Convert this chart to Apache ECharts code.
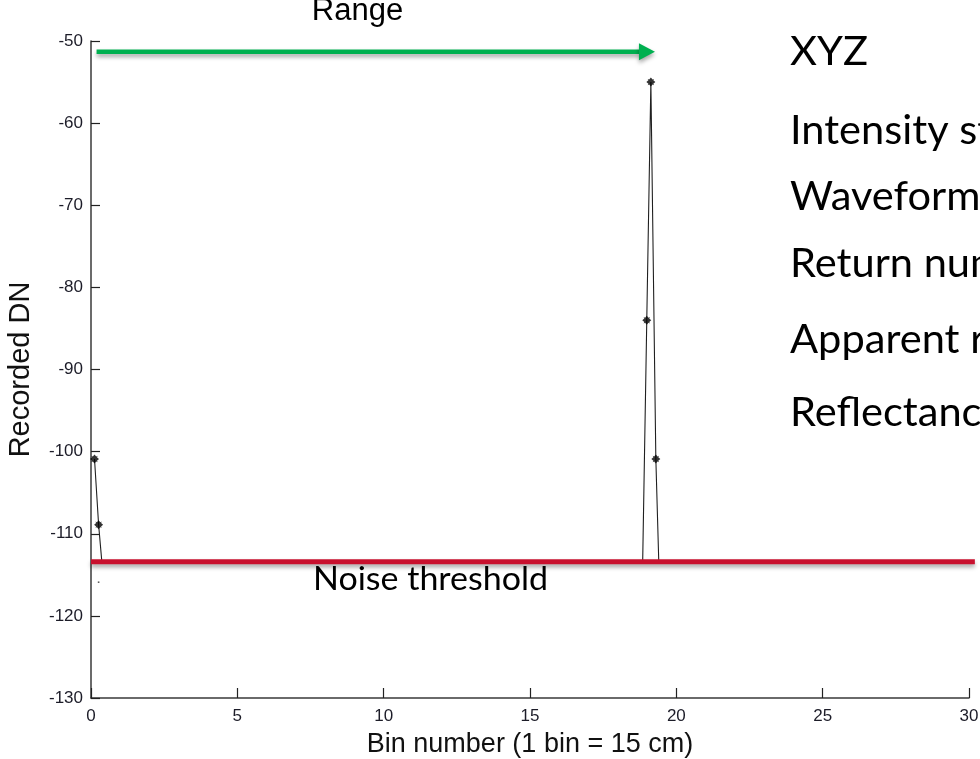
<!DOCTYPE html>
<html>
<head>
<meta charset="utf-8">
<script src="https://cdn.jsdelivr.net/npm/echarts@6/dist/echarts.min.js"></script>
<style>
  html, body { margin: 0; padding: 0; background: #fff; }
  #chart { width: 980px; height: 759px; }
</style>
</head>
<body>
<div id="chart"></div>
<script>
// Recorded full-waveform samples (bin index vs digital number)
const echoBins = [0.12, 0.26, 0.37];
const echoDN = [-100.9, -108.9, -113.4];
const peakBins = [18.85, 18.99, 19.13, 19.30, 19.40];
const peakDN = [-113.4, -84.0, -55.0, -100.9, -113.4];
// Samples drawn with a marker
const sampleBins = [0.12, 0.26, 18.99, 19.13, 19.30];
const sampleDN = [-100.9, -108.9, -84.0, -55.0, -100.9];
// Isolated low sample below the threshold
const strayBins = [0.26];
const strayDN = [-115.9];

// Axis ranges and annotations
const xTicks = { min: 0, max: 30, step: 5 };
const yTicks = { min: -130, max: -50, step: 10 };
const noiseThreshold = -113.4;
const thresholdSpan = [0, 30.2];
const rangeSpan = [0.19, 19.27];
const rangeLevel = -51.3;
const attributeLabels = ['XYZ', 'Intensity statistics', 'Waveform attributes', 'Return number', 'Apparent reflectance', 'Reflectance'];

const pair = (xs, ys) => xs.map((x, i) => [x, ys[i]]);

const starPath = 'path://M0,-10 L3.8,-5.5 L7,-7 L5.5,-3.8 L10,0 L5.5,3.8 L7,7 L3.8,5.5 L0,10 L-3.8,5.5 L-7,7 L-5.5,3.8 L-10,0 L-5.5,-3.8 L-7,-7 L-3.8,-5.5 Z';

const chart = echarts.init(document.getElementById('chart'), null, { renderer: 'canvas' });

const axisText = { fontFamily: 'Liberation Sans, Arial, sans-serif', fontSize: 17, color: '#1c1c28' };

chart.setOption({
  animation: false,
  backgroundColor: '#ffffff',
  grid: { left: 91, right: 11, top: 41, bottom: 61, containLabel: false, outerBoundsMode: 'none' },
  xAxis: {
    type: 'value',
    min: xTicks.min, max: xTicks.max, interval: xTicks.step,
    name: 'Bin number (1 bin = 15 cm)',
    nameLocation: 'middle',
    nameGap: 33,
    nameTextStyle: { fontFamily: 'Liberation Sans, Arial, sans-serif', fontSize: 27, color: '#111' },
    axisLine: { show: true, lineStyle: { color: '#3a3a3a', width: 1.5 } },
    axisTick: { show: true, inside: true, length: 10, lineStyle: { color: '#222', width: 1.2 } },
    axisLabel: Object.assign({ margin: 10 }, axisText),
    splitLine: { show: false }
  },
  yAxis: {
    type: 'value',
    min: yTicks.min, max: yTicks.max, interval: yTicks.step,
    name: 'Recorded DN',
    nameLocation: 'middle',
    nameGap: 56,
    nameTextStyle: { fontFamily: 'Liberation Sans, Arial, sans-serif', fontSize: 29, color: '#111' },
    axisLine: { show: true, lineStyle: { color: '#3a3a3a', width: 1.5 } },
    axisTick: { show: true, inside: true, length: 9, lineStyle: { color: '#222', width: 1.2 } },
    axisLabel: Object.assign({ margin: 8 }, axisText),
    splitLine: { show: false }
  },
  series: [
    {
      type: 'line', data: pair(echoBins, echoDN), showSymbol: false, symbol: 'none',
      lineStyle: { color: '#202020', width: 1.1 }, z: 3
    },
    {
      type: 'line', data: pair(peakBins, peakDN), showSymbol: false, symbol: 'none',
      lineStyle: { color: '#202020', width: 1.1 }, z: 3
    },
    {
      type: 'scatter', data: pair(sampleBins, sampleDN), symbol: starPath, symbolSize: 9,
      itemStyle: { color: '#000' }, z: 4
    },
    {
      type: 'scatter', data: pair(strayBins, strayDN), symbol: 'rect', symbolSize: 1.6,
      itemStyle: { color: '#333' }, z: 4
    }
  ]
});

// Annotation overlay positioned through the axis scales
function drawAnnotations() {
  const toPx = (x, y) => chart.convertToPixel({ gridIndex: 0 }, [x, y]);
  const t0 = toPx(thresholdSpan[0], noiseThreshold);
  const t1 = toPx(thresholdSpan[1], noiseThreshold);
  const r0 = toPx(rangeSpan[0], rangeLevel);
  const r1 = toPx(rangeSpan[1], rangeLevel);
  const headLen = 16, headHalf = 8.5;
  const shadow = { shadowBlur: 4, shadowOffsetY: 3, shadowColor: 'rgba(0,0,0,0.35)' };

  const sideFont = 'Lato, "Open Sans", sans-serif';
  const capCenters = [52, 131, 197, 264, 340, 413];
  const sideTexts = attributeLabels.map((txt, i) => ({
    type: 'text', z: 20, x: 790, y: capCenters[i], scaleX: 1.04,
    style: {
      text: txt, font: '40px ' + sideFont,
      fill: '#000', textAlign: 'left', textVerticalAlign: 'middle'
    }
  }));

  chart.setOption({
    graphic: [
      {
        type: 'line', z: 20,
        shape: { x1: t0[0], y1: t0[1], x2: t1[0], y2: t1[1] },
        style: Object.assign({ stroke: '#c8102e', lineWidth: 5 }, shadow)
      },
      {
        type: 'group', z: 20,
        children: [
          {
            type: 'line',
            shape: { x1: r0[0], y1: r0[1], x2: r1[0] - headLen + 1, y2: r1[1] },
            style: Object.assign({ stroke: '#00b050', lineWidth: 4.5 }, shadow)
          },
          {
            type: 'polygon',
            shape: { points: [[r1[0] - headLen, r1[1] - headHalf], [r1[0], r1[1]], [r1[0] - headLen, r1[1] + headHalf]] },
            style: Object.assign({ fill: '#00b050' }, shadow)
          }
        ]
      },
      {
        type: 'text', z: 20, x: 357.5, y: 11.5,
        style: {
          text: 'Range', font: '31px "Liberation Sans", Arial, sans-serif',
          fill: '#000', textAlign: 'center', textVerticalAlign: 'middle'
        }
      },
      {
        type: 'text', z: 20, x: 313, y: 579, scaleX: 1.03,
        style: {
          text: 'Noise threshold', font: '33px ' + sideFont,
          fill: '#000', textAlign: 'left', textVerticalAlign: 'middle'
        }
      }
    ].concat(sideTexts)
  });
}
drawAnnotations();
</script>
</body>
</html>
